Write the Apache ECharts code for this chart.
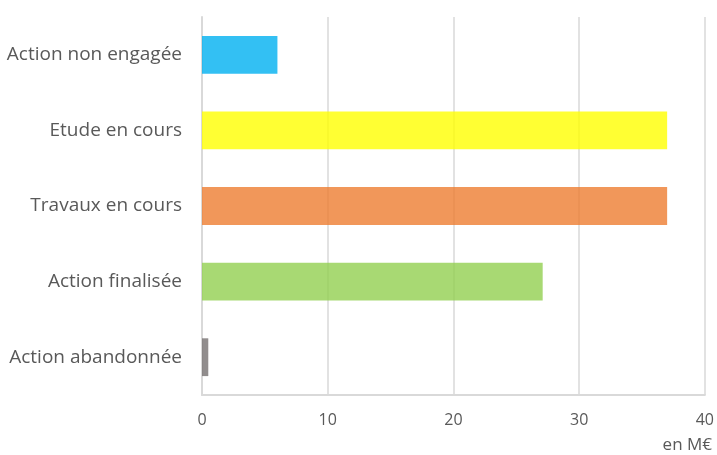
<!DOCTYPE html>
<html>
<head>
<meta charset="utf-8">
<script src="https://cdn.jsdelivr.net/npm/echarts@6/dist/echarts.min.js"></script>
<style>
html, body { margin: 0; padding: 0; background: #fff; }
#container { width: 717px; height: 455px; }
</style>
</head>
<body>
<div id="container"></div>
<script>
var dom = document.getElementById('container');
var myChart = echarts.init(dom);

// statut des actions, en M€
let categories = ['Action non engagée', 'Etude en cours', 'Travaux en cours', 'Action finalisée', 'Action abandonnée']
let montants = [6.0, 37.0, 37.0, 27.1, 0.5]
let couleurs = ['#00B0F0', '#FFFF00', '#ED7D31', '#92D050', '#767171']
let xTicks = [0, 10, 20, 30, 40]

let fontFamily = '"Open Sans", "Noto Sans", sans-serif'

option = {
    backgroundColor: '#ffffff',
    animation: false,
    title: {
        text: 'en M€',
        right: 5,
        bottom: 0,
        padding: [0, 0, 1, 0],
        textStyle: {
            color: '#595959',
            fontSize: 17,
            fontWeight: 'normal',
            fontFamily: fontFamily
        }
    },
    grid: {
        left: 202,
        right: 10,
        top: 17,
        bottom: 60
    },
    xAxis: {
        type: 'value',
        min: xTicks[0],
        max: xTicks[xTicks.length - 1],
        interval: 10,
        axisLine: {
            show: true,
            lineStyle: { color: '#d9d9d9', width: 2 }
        },
        axisTick: { show: false },
        axisLabel: {
            color: '#595959',
            fontSize: 16,
            fontFamily: fontFamily,
            margin: 17
        },
        splitLine: {
            show: true,
            lineStyle: { color: '#d9d9d9', width: 1.5 }
        }
    },
    yAxis: {
        type: 'category',
        inverse: true,
        data: categories,
        axisLine: {
            show: true,
            lineStyle: { color: '#d9d9d9', width: 2 }
        },
        axisTick: { show: false },
        axisLabel: {
            color: '#595959',
            fontSize: 19,
            fontFamily: fontFamily,
            margin: 20
        }
    },
    series: [{
        type: 'bar',
        barWidth: '50%',
        data: montants.map(function (v, i) {
            return {
                value: v,
                itemStyle: { color: couleurs[i], opacity: 0.8 }
            }
        })
    }]
};
myChart.setOption(option);

window.addEventListener("resize", function () {
    myChart.resize();
});
</script>
</body>
</html>
